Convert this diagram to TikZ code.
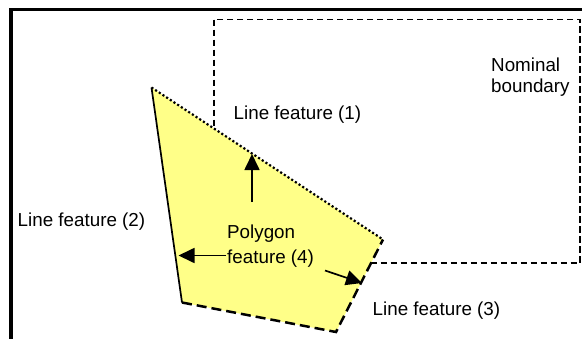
\documentclass[tikz,border=0pt]{standalone}
\usepackage{fontspec}
\setmainfont{Liberation Sans}
\usetikzlibrary{arrows.meta}
\definecolor{polyyellow}{RGB}{255,255,136}

\begin{document}
\begin{tikzpicture}[x=1pt, y=-1pt,
	lbl/.style={font=\fontsize{18.8}{21.5}\selectfont, inner sep=0pt, anchor=base west, align=left},
	arr/.style={-{Triangle[length=16pt, width=15pt]}, line width=1.7pt},
	nominal/.style={line width=1.7pt, dash pattern=on 6.5pt off 3.5pt},
	solidedge/.style={line width=1.7pt},
	dottededge/.style={line width=2.2pt, dash pattern=on 2.1pt off 2.3pt},
	dashededge/.style={line width=2.5pt, dash pattern=on 10pt off 5pt}]
	%\draw[help lines] (0,0) grid[step=50] (582,338);
	\useasboundingbox (0,0) rectangle (582,338);
	\clip (0,0) rectangle (582,338);
	\draw[line width=3.2pt] (11,9.5) rectangle (620,360);
	% nominal boundary
	\draw[nominal] (214,19.5) rectangle (580,263);
	% polygon feature
	\coordinate (tl) at (151.5,87.5);
	\coordinate (tr) at (383,239.5);
	\coordinate (br) at (336,332);
	\coordinate (bl) at (182,302.5);
	\fill[polyyellow] (tl) -- (tr) -- (br) -- (bl) -- cycle;
	\draw[dottededge] (tl) -- (tr);
	\draw[solidedge] (tl) -- (bl);
	\draw[dashededge] (bl) -- (br) -- (tr);
	% arrows
	\coordinate (uptail) at (252,202);
	\coordinate (uphead) at (252,154);
	\coordinate (lefttail) at (226,255.5);
	\coordinate (lefthead) at (178.5,255.5);
	\coordinate (diagtail) at (325,270.5);
	\coordinate (diaghead) at (362,283);
	\draw[arr] (uptail) -- (uphead);
	\draw[arr] (lefttail) -- (lefthead);
	\draw[arr] (diagtail) -- (diaghead);
	% labels
	\node[lbl] (nominal label) at (491,92.7) {Nominal\\boundary};
	\node[lbl] (line one) at (233.5,119.3) {Line feature (1)};
	\node[lbl] (line two) at (17.5,226.7) {Line feature (2)};
	\node[lbl] (line three) at (372.5,315) {Line feature (3)};
	\node[lbl] (polygon label) at (227,263) {Polygon\\[3pt]feature (4)};
\end{tikzpicture}
\end{document}
